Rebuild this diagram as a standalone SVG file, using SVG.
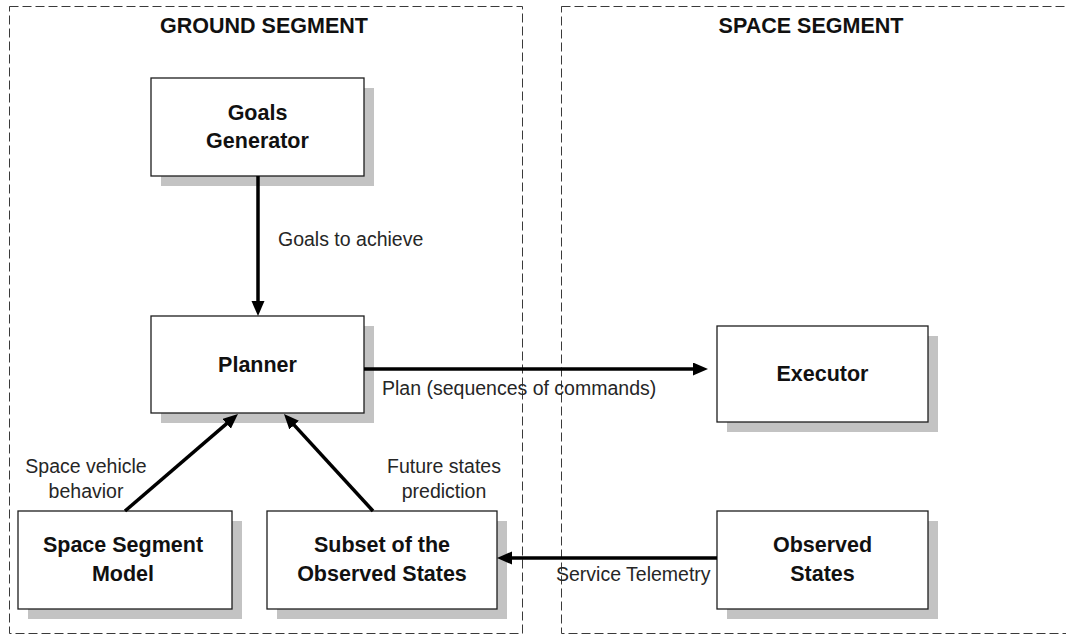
<svg xmlns="http://www.w3.org/2000/svg" width="1066" height="635" viewBox="0 0 1066 635">
  <style>
    .seg { fill: none; stroke: #3a3a3a; stroke-width: 1; stroke-dasharray: 9 4; }
    .shadow { fill: #c3c3c3; stroke: none; }
    .box { fill: #ffffff; stroke: #1e1e1e; stroke-width: 1.3; }
    .title { font-family: "Liberation Sans", Arial, sans-serif; font-weight: bold; font-size: 21.5px; fill: #111; text-anchor: middle; }
    .node { font-family: "Liberation Sans", Arial, sans-serif; font-weight: bold; font-size: 21.5px; fill: #111; text-anchor: middle; }
    .lbl { font-family: "Liberation Sans", Arial, sans-serif; font-size: 19.5px; fill: #262626; }
    .conn { fill: none; stroke: #000; stroke-width: 3.5; marker-end: url(#arrow); }
  </style>
  <defs>
    <marker id="arrow" markerUnits="userSpaceOnUse" markerWidth="16" markerHeight="14" refX="7" refY="6.5" orient="auto">
      <path d="M0,0 L15,6.5 L0,13 Z" fill="#000"/>
    </marker>
  </defs>
  <rect width="1066" height="635" fill="#ffffff"/>

  <g id="ground-segment">
    <rect class="seg" x="9.5" y="6.5" width="513" height="627"/>
    <text class="title" x="264" y="33">GROUND SEGMENT</text>
  </g>
  <g id="space-segment">
    <rect class="seg" x="561.5" y="6.5" width="520" height="627"/>
    <text class="title" x="811" y="33">SPACE SEGMENT</text>
  </g>

  <g id="goals-generator">
    <rect class="shadow" x="161" y="88" width="213" height="98"/>
    <rect class="box" x="151" y="78" width="213" height="98"/>
    <text class="node" x="257.5" y="120">Goals</text>
    <text class="node" x="257.5" y="148">Generator</text>
  </g>

  <g id="planner">
    <rect class="shadow" x="161" y="326" width="213" height="97"/>
    <rect class="box" x="151" y="316" width="213" height="97"/>
    <text class="node" x="257.5" y="372">Planner</text>
  </g>

  <g id="executor">
    <rect class="shadow" x="727" y="336" width="211" height="96"/>
    <rect class="box" x="717" y="326" width="211" height="96"/>
    <text class="node" x="822.5" y="381">Executor</text>
  </g>

  <g id="space-segment-model">
    <rect class="shadow" x="28" y="521" width="214" height="98"/>
    <rect class="box" x="18" y="511" width="214" height="98"/>
    <text class="node" x="123" y="552">Space Segment</text>
    <text class="node" x="123" y="581">Model</text>
  </g>

  <g id="subset-observed-states">
    <rect class="shadow" x="277" y="521" width="230" height="98"/>
    <rect class="box" x="267" y="511" width="230" height="98"/>
    <text class="node" x="382" y="552">Subset of the</text>
    <text class="node" x="382" y="581">Observed States</text>
  </g>

  <g id="observed-states">
    <rect class="shadow" x="727" y="521" width="211" height="98"/>
    <rect class="box" x="717" y="511" width="211" height="98"/>
    <text class="node" x="822.5" y="552">Observed</text>
    <text class="node" x="822.5" y="581">States</text>
  </g>

  <g id="connectors">
    <line class="conn" x1="258" y1="176" x2="258" y2="308"/>
    <line class="conn" x1="364" y1="369" x2="700" y2="369"/>
    <line class="conn" x1="717" y1="558" x2="505" y2="558"/>
    <line class="conn" x1="125" y1="511" x2="231.9" y2="419.2"/>
    <line class="conn" x1="373" y1="511" x2="289.4" y2="419.9"/>
    <text class="lbl" x="278" y="246">Goals to achieve</text>
    <text class="lbl" x="382" y="395">Plan (sequences of commands)</text>
    <text class="lbl" x="556" y="581">Service Telemetry</text>
    <text class="lbl" x="86" y="473" text-anchor="middle">Space vehicle</text>
    <text class="lbl" x="86" y="498" text-anchor="middle">behavior</text>
    <text class="lbl" x="444" y="473" text-anchor="middle">Future states</text>
    <text class="lbl" x="444" y="498" text-anchor="middle">prediction</text>
  </g>
</svg>
